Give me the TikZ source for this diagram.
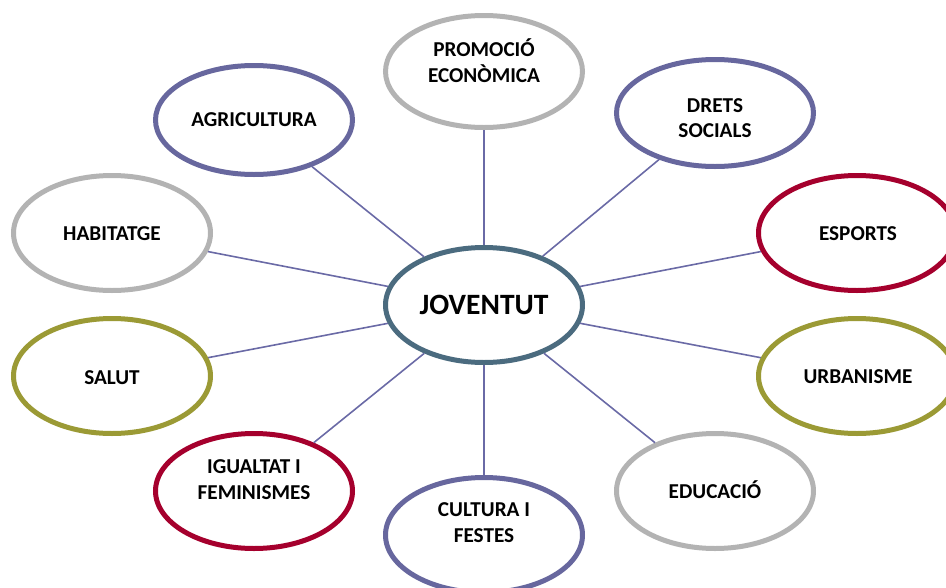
\documentclass[tikz,border=0pt]{standalone}
\usepackage{fontspec}
\setmainfont{Carlito}
\usetikzlibrary{shapes.geometric}
\definecolor{cpurple}{HTML}{67679E}
\definecolor{cgray}{HTML}{B3B3B3}
\definecolor{ccrimson}{HTML}{A5002D}
\definecolor{colive}{HTML}{9B9A35}
\definecolor{cteal}{HTML}{4B6B7F}
\definecolor{linkc}{HTML}{6A6AA6}
\tikzset{
  bubble/.style={ellipse, draw, line width=5pt, fill=white, minimum width=197pt, minimum height=115pt, inner sep=0pt},
  lbl/.style={font=\fontsize{21.2}{26}\selectfont\bfseries, anchor=base, inner sep=0pt},
  biglbl/.style={font=\fontsize{29.5}{36}\selectfont\bfseries, anchor=base, inner sep=0pt},
  link/.style={draw=linkc, line width=1.6pt},
}
\begin{document}
\begin{tikzpicture}[x=1pt,y=-1pt]
\useasboundingbox (0,0) rectangle (946,587);
\clip (0,0) rectangle (946,587);
% bubbles
\node[bubble, draw=cgray, minimum height=112pt] (prom) at (484,71.5) {};
\node[bubble, draw=cpurple, minimum height=109pt] (agri) at (254,120) {};
\node[bubble, draw=cpurple, minimum height=107pt] (drets) at (715,113) {};
\node[bubble, draw=cgray] (habit) at (112,233) {};
\node[bubble, draw=ccrimson] (esports) at (857,233) {};
\node[bubble, draw=cteal] (jov) at (484,305) {};
\node[bubble, draw=colive] (salut) at (112,376) {};
\node[bubble, draw=colive] (urban) at (857,376) {};
\node[bubble, draw=ccrimson] (igual) at (254,491) {};
\node[bubble, draw=cgray] (educ) at (715,491) {};
\node[bubble, draw=cpurple] (cult) at (484,535) {};
% labels
\node[lbl] (prom-t1) at (484,56.8) {PROMOCIÓ};
\node[lbl] (prom-t2) at (484,82.8) {ECONÒMICA};
\node[lbl] (agri-t) at (254,126.8) {AGRICULTURA};
\node[lbl] (drets-t1) at (715,112.8) {DRETS};
\node[lbl] (drets-t2) at (715,137.8) {SOCIALS};
\node[lbl] (habit-t) at (112,240.8) {HABITATGE};
\node[lbl] (esports-t) at (858,240.8) {ESPORTS};
\node[biglbl] (jov-t) at (484,314.5) {JOVENTUT};
\node[lbl] (salut-t) at (112,384.8) {SALUT};
\node[lbl] (urban-t) at (858,383.8) {URBANISME};
\node[lbl] (igual-t1) at (254,473.8) {IGUALTAT I};
\node[lbl] (igual-t2) at (254,499.8) {FEMINISMES};
\node[lbl] (educ-t) at (715,498.8) {EDUCACIÓ};
\node[lbl] (cult-t1) at (484,516.8) {CULTURA I};
\node[lbl] (cult-t2) at (484,542.8) {FESTES};
% connectors
\foreach \n in {prom,agri,drets,habit,esports,salut,urban,igual,educ,cult}
  \draw[link] (jov) -- (\n);
\end{tikzpicture}
\end{document}
